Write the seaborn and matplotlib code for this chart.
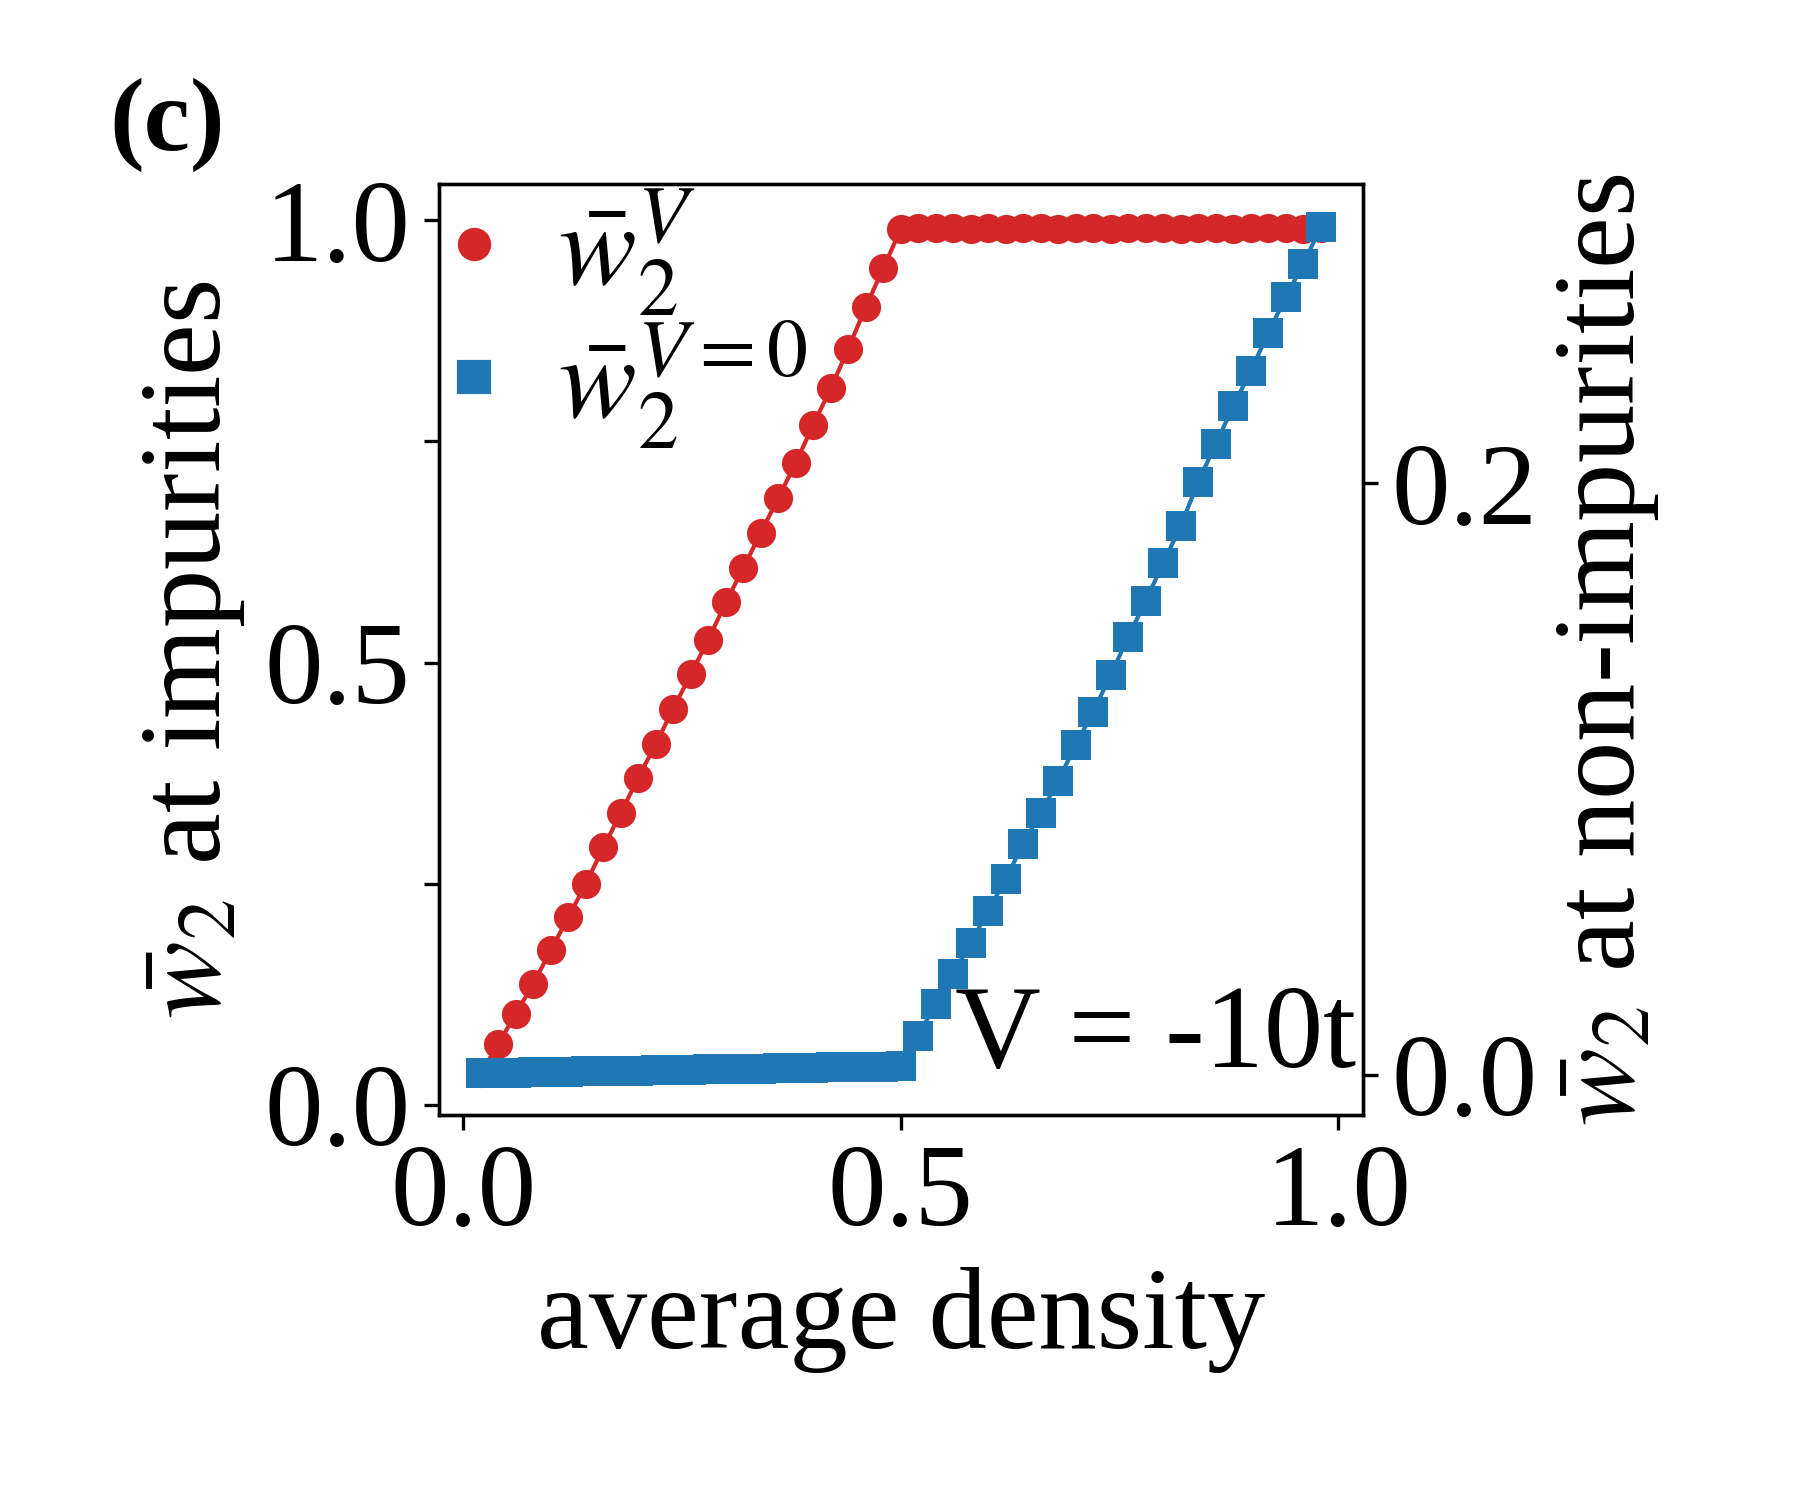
import numpy as np
import pandas as pd
import seaborn as sns
import matplotlib.pyplot as plt
from matplotlib.lines import Line2D
from matplotlib.ticker import MultipleLocator, FixedLocator, FormatStrFormatter

# values
density = [0.02, 0.04, 0.06, 0.08, 0.10, 0.12, 0.14, 0.16, 0.18, 0.20,
           0.22, 0.24, 0.26, 0.28, 0.30, 0.32, 0.34, 0.36, 0.38, 0.40,
           0.42, 0.44, 0.46, 0.48, 0.50, 0.52, 0.54, 0.56, 0.58, 0.60,
           0.62, 0.64, 0.66, 0.68, 0.70, 0.72, 0.74, 0.76, 0.78, 0.80,
           0.82, 0.84, 0.86, 0.88, 0.90, 0.92, 0.94, 0.96, 0.98]

w2_impurity = [0.036, 0.069, 0.103, 0.137, 0.175, 0.212, 0.250, 0.291, 0.330, 0.370,
               0.408, 0.448, 0.487, 0.526, 0.568, 0.607, 0.647, 0.686, 0.726, 0.769,
               0.810, 0.855, 0.902, 0.946, 0.990, 0.991, 0.991, 0.991, 0.990, 0.991,
               0.990, 0.991, 0.991, 0.990, 0.991, 0.991, 0.990, 0.991, 0.991, 0.991,
               0.990, 0.991, 0.991, 0.990, 0.991, 0.991, 0.991, 0.990, 0.991]

w2_clean = [0.0005, 0.0006, 0.0007, 0.0008, 0.0009, 0.0010, 0.0011, 0.0012, 0.0013, 0.0014,
            0.0015, 0.0016, 0.0017, 0.0018, 0.0019, 0.0020, 0.0021, 0.0022, 0.0023, 0.0024,
            0.0025, 0.0025, 0.0026, 0.0027, 0.0028, 0.0132, 0.0240, 0.0342, 0.0446, 0.0554,
            0.0662, 0.0781, 0.0885, 0.0994, 0.1115, 0.1227, 0.1352, 0.1480, 0.1602, 0.1730,
            0.1855, 0.2004, 0.2132, 0.2260, 0.2379, 0.2507, 0.2629, 0.2740, 0.2865]

df = pd.DataFrame({'density': density, 'imp': w2_impurity, 'clean': w2_clean})

sns.set_style('ticks')
plt.rcParams['font.family'] = ['Liberation Serif', 'DejaVu Serif']
plt.rcParams['mathtext.fontset'] = 'stix'
plt.rcParams['font.size'] = 28
for k in ['text.color', 'axes.labelcolor', 'xtick.color', 'ytick.color', 'axes.edgecolor']:
    plt.rcParams[k] = 'black'

fig = plt.figure(figsize=(6, 5), dpi=300)
ax = fig.add_axes([0.2441, 0.2567, 0.5130, 0.6204])
ax2 = ax.twinx()

red = '#d62728'
blue = '#1f77b4'

sns.lineplot(data=df, x='density', y='imp', ax=ax, color=red, marker='o',
             markersize=7, markeredgewidth=0, linewidth=1, legend=False)
sns.lineplot(data=df, x='density', y='clean', ax=ax2, color=blue, marker='s',
             markersize=7, markeredgewidth=0, linewidth=1, legend=False)

# axis limits (autoscaled in original)
ax.set_xlim(-0.0274, 1.0281)
ax.set_ylim(-0.0114, 1.0407)
ax2.set_ylim(-0.0136, 0.3010)

ax.xaxis.set_major_locator(FixedLocator([0.0, 0.5, 1.0]))
ax.xaxis.set_major_formatter(FormatStrFormatter('%.1f'))
ax.yaxis.set_major_locator(MultipleLocator(0.5))
ax.yaxis.set_minor_locator(MultipleLocator(0.25))
ax.yaxis.set_major_formatter(FormatStrFormatter('%.1f'))
ax2.yaxis.set_major_locator(FixedLocator([0.0, 0.2]))
ax2.yaxis.set_major_formatter(FormatStrFormatter('%.1f'))

for a in (ax, ax2):
    a.tick_params(axis='both', which='both', labelsize=28, length=3.5, width=0.8)

ax.set_xlabel('average density', fontsize=28)
ax.set_ylabel(r'$\bar{w}_2$ at impurities', fontsize=28)
ax2.set_ylabel(r'$\bar{w}_2$ at non-impurities', fontsize=28)

ax.text(0.562, 0.043, 'V = -10t', fontsize=28.5, ha='left', va='baseline')

handles = [Line2D([], [], color=red, marker='o', markersize=7, linestyle='none'),
           Line2D([], [], color=blue, marker='s', markersize=7, linestyle='none')]
labels = [r'$\bar{w}_2^{V}$', r'$\bar{w}_2^{V=0}$']
ax2.legend(handles, labels, loc='upper left', frameon=False, fontsize=28,
           handlelength=0.55, handletextpad=0.45, borderaxespad=0.02,
           borderpad=0, labelspacing=0)

fig.text(0.061, 0.917, '(c)', fontsize=25, fontweight='bold', va='center')

fig.savefig('out.png', dpi=300)
